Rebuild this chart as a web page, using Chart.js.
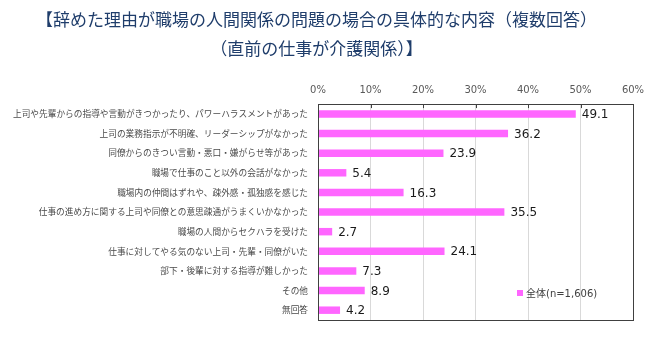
<!DOCTYPE html>
<html lang="ja">
<head>
<meta charset="utf-8">
<title>辞めた理由が職場の人間関係の問題の場合の具体的な内容</title>
<script src="https://cdn.jsdelivr.net/npm/chart.js@4/dist/chart.umd.min.js"></script>
<style>
  html, body { margin: 0; padding: 0; background: #fff; }
  #wrap { width: 660px; height: 345px; }
</style>
</head>
<body>
<div id="wrap"><canvas id="myChart" width="660" height="345"></canvas></div>
<script>
// categories and values
var categories = [
    "上司や先輩からの指導や言動がきつかったり、パワーハラスメントがあった",
    "上司の業務指示が不明確、リーダーシップがなかった",
    "同僚からのきつい言動・悪口・嫌がらせ等があった",
    "職場で仕事のこと以外の会話がなかった",
    "職場内の仲間はずれや、疎外感・孤独感を感じた",
    "仕事の進め方に関する上司や同僚との意思疎通がうまくいかなかった",
    "職場の人間からセクハラを受けた",
    "仕事に対してやる気のない上司・先輩・同僚がいた",
    "部下・後輩に対する指導が難しかった",
    "その他",
    "無回答"
];
var values = [49.1, 36.2, 23.9, 5.4, 16.3, 35.5, 2.7, 24.1, 7.3, 8.9, 4.2];
var seriesName = "全体(n=1,606)";
var xTicks = [0, 10, 20, 30, 40, 50, 60];
var titleLines = [
    "【辞めた理由が職場の人間関係の問題の場合の具体的な内容（複数回答）",
    "（直前の仕事が介護関係）】"
];

var barColor = "#FF66FF";
var jpFont = "'Noto Sans CJK JP', sans-serif";
var numFont = "'DejaVu Sans', Verdana, sans-serif";

// value labels, frame, small top ticks and the inner legend
var extras = {
    id: "extras",
    afterDatasetsDraw: function (chart) {
        var ctx = chart.ctx;
        var area = chart.chartArea;
        var xs = chart.scales.x;

        ctx.save();
        // small dark tick marks on the top edge
        ctx.strokeStyle = "#404040";
        ctx.lineWidth = 1;
        xTicks.forEach(function (t) {
            var px = Math.round(xs.getPixelForValue(t)) + 0.5;
            ctx.beginPath();
            ctx.moveTo(px, area.top);
            ctx.lineTo(px, area.top + 4);
            ctx.stroke();
        });
        // frame
        ctx.strokeRect(Math.round(area.left) + 0.5, Math.round(area.top) + 0.5,
            Math.round(area.right - area.left), Math.round(area.bottom - area.top));

        // value labels
        ctx.fillStyle = "#1a1a1a";
        ctx.font = "12px " + numFont;
        ctx.textAlign = "left";
        ctx.textBaseline = "middle";
        chart.getDatasetMeta(0).data.forEach(function (bar, i) {
            ctx.fillText(values[i].toFixed(1), bar.x + 6, bar.y + 1);
        });

        // legend inside plot
        var lx = area.left + 199;
        var ly = area.bottom - 27;
        ctx.fillStyle = barColor;
        ctx.fillRect(lx, ly - 3, 6, 6);
        ctx.fillStyle = "#404040";
        ctx.font = "10px 'DejaVu Sans', 'Noto Sans CJK JP', sans-serif";
        ctx.fillText(seriesName, lx + 9, ly + 1);
        ctx.restore();
    }
};

new Chart("myChart", {
    type: "bar",
    data: {
        labels: categories,
        datasets: [{
            label: seriesName,
            data: values,
            backgroundColor: barColor,
            barPercentage: 0.38,
            categoryPercentage: 1
        }]
    },
    options: {
        indexAxis: "y",
        responsive: false,
        animation: false,
        layout: { padding: { left: 0, right: 27, top: 0, bottom: 25 } },
        plugins: {
            legend: { display: false },
            tooltip: { enabled: false },
            title: {
                display: true,
                text: titleLines,
                color: "#1F3D6B",
                font: { family: jpFont, size: 17, weight: "normal", lineHeight: 1.65 },
                padding: { top: 6, bottom: 13 }
            }
        },
        scales: {
            x: {
                position: "top",
                min: 0,
                max: 60,
                afterBuildTicks: function (scale) {
                    scale.ticks = xTicks.map(function (v) { return { value: v }; });
                },
                afterFit: function (scale) { scale.height = 29; },
                ticks: {
                    callback: function (v) { return v + "%"; },
                    color: "#595959",
                    font: { family: numFont, size: 10 },
                    padding: 8,
                    maxRotation: 0
                },
                grid: { color: "#D9D9D9", drawTicks: false },
                border: { display: false }
            },
            y: {
                afterFit: function (scale) { scale.width = 318; },
                ticks: {
                    color: "#4a4a4a",
                    font: { family: jpFont, size: 8.7 },
                    padding: 10,
                    autoSkip: false
                },
                grid: { display: false, drawTicks: false },
                border: { display: false }
            }
        }
    },
    plugins: [extras]
});
</script>
</body>
</html>
